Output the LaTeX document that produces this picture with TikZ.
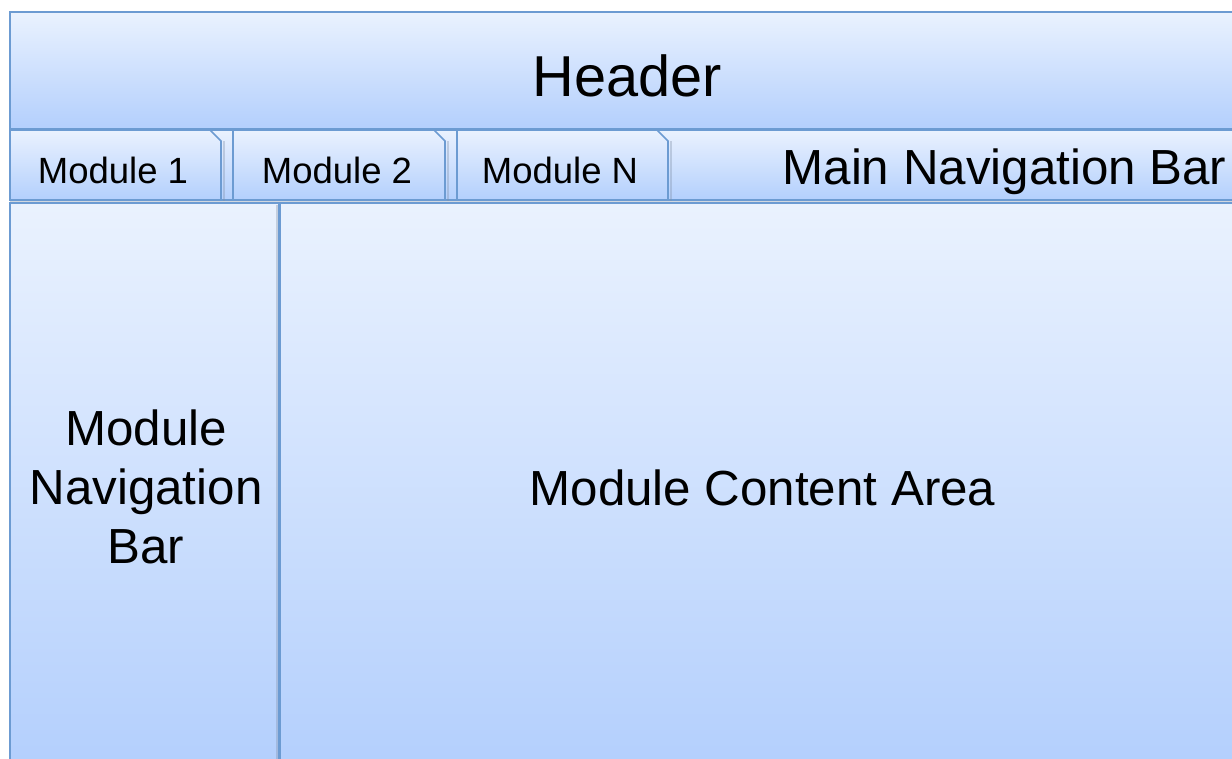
\documentclass[tikz,border=0pt]{standalone}
\usepackage{fontspec}
\setmainfont{Liberation Sans}
\definecolor{gtop}{HTML}{EAF2FE}
\definecolor{gbot}{HTML}{B3CFFD}
\definecolor{edge}{HTML}{6C9BD2}
\definecolor{shad}{HTML}{8090A8}
\tikzset{
  panel/.style={draw=edge, line width=1.6pt, top color=gtop, bottom color=gbot},
  shadowline/.style={draw=shad, line width=2pt, opacity=0.35},
  big/.style={font=\fontsize{49.3}{59}\selectfont, align=center, inner sep=0pt},
  huge/.style={font=\fontsize{57.7}{68}\selectfont, inner sep=0pt},
  small/.style={font=\fontsize{36.5}{42}\selectfont, inner sep=0pt, anchor=base},
}
\begin{document}
\begin{tikzpicture}[x=1pt,y=-1pt]
\useasboundingbox (0,0) rectangle (1232,758);
\clip (0,0) rectangle (1232,758);
\fill[white] (0,0) rectangle (1232,758);
% header
\path[panel] (10,12) rectangle (1244,129);
% navigation bar
\path[panel] (10,130) rectangle (1244,200);
\draw[shadowline] (10,202) -- (1244,202);
% tabs
\foreach \l/\r in {10/221, 233/445, 457/668}{
  \draw[shadowline] (\r+2.5,141) -- (\r+2.5,201);
  \path[panel] (\l,130) -- (\r-11,130) -- (\r,141) -- (\r,200) -- (\l,200) -- cycle;
}
% lower panels
\path[panel] (10,203) rectangle (279,770);
\draw[shadowline] (277,205) -- (277,775);
\path[panel] (280,203) rectangle (1244,770);
% texts
\node[huge] (header) at (627,76) {Header};
\node[small] (m1) at (113,183.5) {Module 1};
\node[small] (m2) at (337,183.5) {Module 2};
\node[small] (mn) at (560,183.5) {Module N};
\node[big, anchor=base] (mainnav) at (1004.5,184.5) {Main Navigation Bar};
\node[big] (modnav) at (146,487) {Module\\Navigation\\Bar};
\node[big] (content) at (762.5,488) {Module Content Area};
\end{tikzpicture}
\end{document}
